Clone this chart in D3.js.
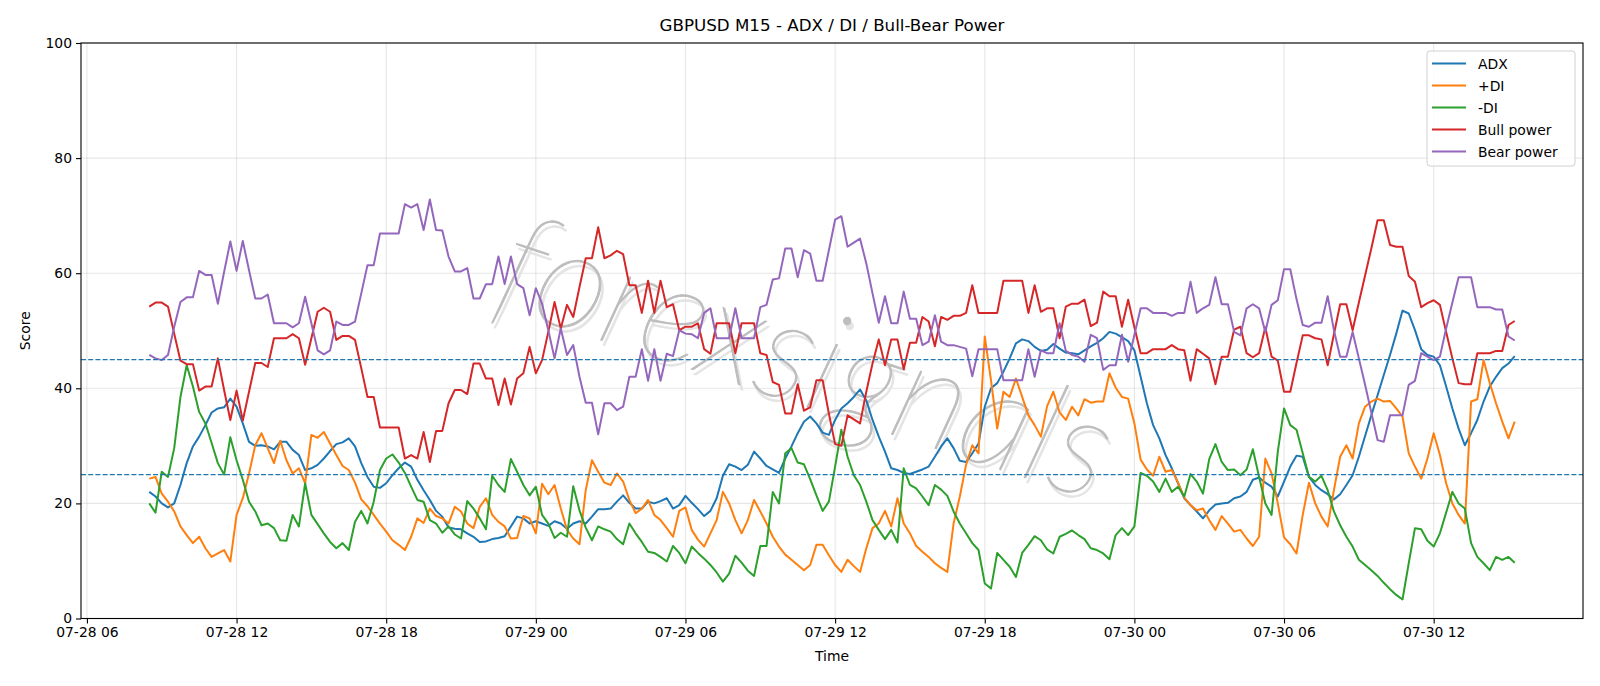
<!DOCTYPE html>
<html>
<head>
<meta charset="utf-8">
<script src="https://cdn.jsdelivr.net/npm/d3@7"></script>
<style>
  body { margin: 0; background: #fff; }
  text { font-family: "DejaVu Sans", sans-serif; }
</style>
</head>
<body>
<script>
//15 minute bars, first bar 07-28 08:30
var startTime = new Date(2025, 6, 28, 8, 30);
var stepMinutes = 15;

var adx = [22.0,21.2,20.0,19.3,20.0,23.2,27.0,29.9,31.6,33.6,35.8,36.5,36.7,38.2,36.8,33.9,30.7,30.0,30.1,29.9,
  29.4,30.7,30.7,29.3,28.4,25.8,26.1,26.7,27.8,29.1,30.3,30.6,31.3,29.9,27.0,24.6,22.9,22.7,
  23.5,24.9,26.1,27.1,26.4,24.1,22.3,20.6,18.7,17.7,15.8,15.6,15.5,14.8,14.2,13.3,13.4,13.8,14.0,14.3,16.0,17.7,
  17.4,16.5,16.9,16.5,16.1,16.9,16.5,15.6,16.5,16.9,16.5,17.7,19.0,19.0,
  19.1,20.3,21.4,20.1,19.1,19.1,20.3,20.0,20.4,20.9,19.1,19.7,21.3,20.1,19.0,17.8,18.7,20.9,24.8,26.8,
  26.4,25.8,26.7,29.0,27.8,26.5,25.9,25.3,27.8,29.9,32.2,34.2,35.1,33.9,32.3,31.9,34.5,
  36.5,37.4,38.5,39.8,37.9,34.5,31.6,29.0,26.1,25.8,25.3,25.1,25.5,25.9,26.4,28.1,29.9,31.3,29.6,27.4,
  27.2,28.7,30.4,36.8,40.0,40.9,42.9,45.2,47.8,48.5,48.2,47.2,46.5,46.7,47.7,46.9,46.2,
  46.1,45.9,46.6,47.3,47.9,48.7,49.8,49.5,48.9,48.2,46.6,42.0,37.4,33.6,31.3,28.4,26.1,23.5,20.9,19.7,
  18.6,17.4,18.8,19.8,20.0,20.1,20.9,21.2,22.0,24.1,24.5,23.6,22.9,21.2,23.8,26.4,28.3,
  28.1,24.6,23.2,22.3,21.6,20.7,21.6,23.2,24.9,28.1,31.7,35.3,38.8,42.3,45.8,49.5,53.5,53.0,50.1,46.8,
  45.8,45.5,44.0,40.3,36.5,33.0,30.1,32.2,34.5,37.7,40.3,42.0,43.5,44.3,45.6];

var plusDI = [24.3,24.6,21.7,20.3,18.6,16.0,14.5,13.1,14.2,12.2,10.7,11.3,11.9,9.9,18.0,20.9,25.2,30.1,32.2,29.6,
  27.0,30.9,27.5,25.2,26.1,23.5,31.9,31.4,32.4,30.4,28.4,26.5,25.8,23.6,20.7,19.5,18.0,16.5,
  15.1,13.6,12.8,11.9,14.2,17.4,16.6,19.1,17.8,17.4,16.5,19.4,18.6,16.5,15.7,19.4,20.9,18.0,16.8,16.0,13.9,14.0,
  17.8,17.4,14.8,23.4,21.6,23.2,19.1,15.4,13.9,12.9,22.3,27.5,25.5,23.6,
  23.2,25.2,23.8,20.6,18.3,19.1,20.6,18.0,17.1,15.7,14.2,18.7,19.3,15.4,13.7,12.5,14.8,17.1,22.0,20.0,
  17.1,14.8,17.1,20.6,18.6,16.5,14.2,12.5,11.1,10.2,9.3,8.4,9.3,12.8,12.8,11.0,9.3,
  8.1,10.2,9.1,8.1,12.2,15.7,16.5,18.7,16.0,20.9,16.5,14.8,12.6,11.6,10.7,9.6,8.8,8.1,16.5,21.2,
  26.7,30.1,28.7,49.0,41.4,33.0,39.4,38.5,41.7,38.5,35.3,33.6,31.6,36.9,39.4,35.8,34.5,
  36.8,35.3,38.1,37.5,37.7,37.7,42.6,40.1,38.5,38.2,33.9,27.6,25.9,24.8,28.1,25.5,25.8,23.6,21.0,19.7,
  18.8,19.1,17.1,15.4,17.8,16.5,15.1,15.4,13.9,12.6,14.2,27.8,25.2,20.0,14.1,12.9,11.3,
  18.0,23.6,20.0,17.7,16.0,22.3,28.1,30.1,27.8,33.9,36.8,37.7,38.2,37.7,37.8,36.5,35.1,28.7,26.4,24.3,
  27.8,32.2,28.4,23.5,20.0,18.0,16.5,37.7,38.1,44.9,40.9,37.4,34.2,31.3,34.2];

var minusDI = [20.0,18.4,25.5,24.6,29.6,38.5,44.0,40.3,35.9,33.9,30.5,27.0,25.0,31.5,27.5,24.1,20.3,18.6,16.2,16.5,
  15.7,13.6,13.5,18.0,16.0,23.5,18.0,16.4,14.8,13.3,12.2,13.1,11.9,16.8,18.7,16.5,20.3,25.8,
  27.8,28.5,27.1,25.3,22.9,20.6,20.3,17.1,16.5,14.9,16.0,14.6,13.9,20.4,19.1,17.4,15.5,24.8,23.2,22.0,27.7,25.5,
  23.2,21.4,22.9,18.0,16.5,14.0,14.9,14.2,23.0,18.8,15.8,13.6,16.0,15.5,
  15.1,13.8,12.9,16.5,14.8,13.3,11.6,11.4,10.7,9.9,12.6,11.4,9.6,12.5,11.4,10.4,9.3,8.0,6.4,7.8,
  10.9,9.7,8.3,7.4,12.6,12.6,22.0,20.0,28.7,29.6,27.1,26.8,24.2,21.4,18.7,20.3,26.4,
  32.8,28.1,24.9,23.2,20.3,17.1,15.4,13.8,15.4,13.2,26.1,23.2,22.6,21.2,19.7,23.2,22.4,21.3,18.6,16.5,
  14.8,13.1,11.9,6.1,5.2,11.4,10.2,9.0,7.2,11.4,12.8,14.3,13.6,12.0,11.3,14.2,14.7,
  15.3,14.5,13.8,12.2,11.9,11.3,10.3,14.5,15.7,14.5,16.0,25.3,24.8,23.8,22.0,24.3,22.0,22.9,21.2,25.1,
  23.8,21.7,27.7,30.3,27.2,25.8,25.9,24.9,25.9,29.4,24.6,20.0,18.0,29.0,36.5,33.6,32.8,
  28.7,24.6,23.8,24.8,22.3,18.6,16.2,14.2,12.5,10.2,9.3,8.4,7.4,6.2,5.1,4.1,3.3,9.6,15.7,15.5,
  13.5,12.5,14.8,18.4,22.0,20.0,19.1,13.1,10.7,9.6,8.4,10.7,10.2,10.7,9.7];

var bullPower = [54.2,54.9,54.9,54.2,49.5,44.8,44.2,44.2,39.6,40.3,40.3,45.2,39.7,34.5,39.6,34.4,39.4,44.4,44.4,43.7,
  48.7,48.7,48.7,49.4,48.7,44.1,48.7,53.3,54.0,53.3,48.4,49.1,49.1,48.4,43.5,38.5,38.5,33.2,
  33.2,33.2,33.2,27.8,28.4,27.8,32.4,27.2,32.6,32.6,37.4,39.7,39.7,39.0,44.3,44.3,41.7,41.7,37.1,41.7,37.2,41.7,
  42.6,47.2,42.6,44.9,49.8,55.0,50.4,54.5,52.4,57.6,62.6,62.6,68.0,62.6,
  63.1,63.9,63.3,57.9,57.9,53.1,58.7,53.1,58.7,54.1,54.6,50.1,50.7,50.7,51.3,46.8,46.0,51.3,51.3,51.3,
  46.1,51.3,51.3,51.3,46.1,45.8,41.1,40.6,35.6,35.6,40.7,36.1,36.7,41.4,41.4,35.6,30.3,
  30.0,35.3,34.6,33.9,39.4,44.3,48.5,44.0,48.5,48.5,43.3,47.9,47.9,52.4,51.6,47.3,52.4,51.9,52.6,52.6,
  53.1,57.9,53.1,53.1,53.1,53.1,58.7,58.7,58.7,58.7,53.1,57.9,53.3,53.9,53.9,48.7,54.2,
  54.7,54.7,55.4,50.8,51.4,56.8,56.0,56.0,50.7,55.4,50.6,46.1,46.1,46.8,46.8,46.8,47.5,46.8,46.6,41.3,
  46.8,46.0,45.2,40.7,45.5,45.5,50.2,50.7,46.1,45.4,46.1,50.6,45.5,44.8,39.4,39.4,44.4,
  49.2,49.2,48.7,48.5,44.0,49.4,54.6,54.6,50.1,54.9,59.6,64.3,69.2,69.2,64.9,64.6,64.6,59.5,58.5,54.1,
  54.8,55.3,54.5,49.8,45.2,40.9,40.7,40.7,46.1,46.1,46.1,46.5,46.5,51.0,51.7];

var bearPower = [45.8,45.2,44.9,45.8,50.7,55.0,55.8,55.8,60.4,59.7,59.7,54.7,60.2,65.5,60.4,65.6,60.5,55.6,55.6,56.3,
  51.3,51.3,51.3,50.6,51.3,55.9,51.3,46.6,45.9,46.6,51.6,51.0,51.0,51.6,56.5,61.4,61.4,66.9,
  66.9,66.9,66.9,72.0,71.4,72.0,67.5,72.8,67.5,67.4,62.9,60.3,60.3,60.9,55.6,55.6,58.1,58.1,62.9,58.1,62.9,58.1,
  57.4,52.7,57.4,54.7,50.1,45.2,50.4,45.8,47.5,42.0,37.5,37.5,32.0,37.4,
  37.4,36.2,36.8,42.0,42.0,46.8,41.3,46.8,41.3,46.0,45.6,50.1,49.5,49.4,48.7,53.1,53.9,48.7,48.7,48.7,
  53.9,48.7,48.7,48.7,54.1,54.5,58.9,59.1,64.3,64.3,59.3,64.0,63.4,58.7,58.7,64.0,69.3,
  69.9,64.6,65.3,66.0,61.7,56.5,51.4,56.0,51.3,51.3,56.8,52.1,52.1,47.5,48.1,52.7,48.1,47.5,47.5,47.2,
  46.9,42.1,46.8,46.8,46.8,46.8,41.4,41.4,41.4,41.4,46.8,42.0,46.6,46.1,46.1,51.3,46.5,
  45.8,45.5,44.6,49.3,48.7,43.2,44.0,44.0,49.3,44.6,49.3,53.9,53.9,53.1,53.1,53.1,52.6,53.1,53.1,58.5,
  53.1,53.9,54.5,59.3,54.6,54.6,49.8,49.2,53.9,54.6,53.9,49.8,54.5,55.3,60.7,60.7,55.5,
  51.0,50.7,51.4,51.4,56.0,50.1,45.5,45.5,49.8,45.2,40.6,35.8,31.0,30.7,35.3,35.3,35.3,40.6,41.3,46.1,
  45.5,44.9,45.5,50.4,54.9,59.3,59.3,59.3,54.1,54.1,54.1,53.7,53.7,49.0,48.3];

var seriesNames = ["ADX", "+DI", "-DI", "Bull power", "Bear power"];
var seriesColors = ["#1f77b4", "#ff7f0e", "#2ca02c", "#d62728", "#9467bd"];
var refLevels = [25, 45];
var yTicks = [0, 20, 40, 60, 80, 100];
var xTickLabels = ["07-28 06", "07-28 12", "07-28 18", "07-29 00", "07-29 06",
  "07-29 12", "07-29 18", "07-30 00", "07-30 06", "07-30 12"];

var width = 1600, height = 686;
//plot frame (avoid the global names top/left etc.)
var plotL = 81, plotR = 1583, plotT = 43, plotB = 618.5;

var times = adx.map(function(d, i){ return d3.timeMinute.offset(startTime, stepMinutes * i); });
var allSeries = [adx, plusDI, minusDI, bullPower, bearPower];

var parseTick = d3.timeParse("%Y-%m-%d %H");
var tickDates = xTickLabels.map(function(s){ return parseTick("2025-" + s); });

//matplotlib style 5% margin on the time axis
var t0 = +times[0], t1 = +times[times.length - 1], pad = (t1 - t0) * 0.05;

var x = d3.scaleTime()
    .domain([new Date(t0 - pad), new Date(t1 + pad)])
    .range([plotL, plotR]);

var y = d3.scaleLinear()
    .domain([0, 100])
    .range([plotB, plotT]);

var svg = d3.select("body").append("svg")
    .attr("width", width)
    .attr("height", height);

//grid
svg.append("g").selectAll("line")
    .data(tickDates).enter().append("line")
    .attr("x1", function(d){ return x(d); }).attr("x2", function(d){ return x(d); })
    .attr("y1", plotT).attr("y2", plotB)
    .attr("stroke", "#b0b0b0").attr("stroke-opacity", 0.3).attr("stroke-width", 1.1);

svg.append("g").selectAll("line")
    .data(yTicks).enter().append("line")
    .attr("x1", plotL).attr("x2", plotR)
    .attr("y1", function(d){ return y(d); }).attr("y2", function(d){ return y(d); })
    .attr("stroke", "#b0b0b0").attr("stroke-opacity", 0.3).attr("stroke-width", 1.1);

//watermark: thin italic text with a light shadow
var wm = svg.append("g")
    .attr("transform", "translate(792,402) rotate(18)");
wm.append("text")
    .attr("x", 4).attr("y", 4)
    .attr("text-anchor", "middle")
    .style("font-family", "Lato, 'DejaVu Sans', sans-serif")
    .style("font-weight", 100)
    .style("font-style", "italic")
    .style("font-size", "140px")
    .attr("fill", "#e4e4e4")
    .attr("stroke", "#e4e4e4")
    .attr("stroke-width", 1)
    .text("forexsignals");
wm.append("text")
    .attr("text-anchor", "middle")
    .style("font-family", "Lato, 'DejaVu Sans', sans-serif")
    .style("font-weight", 100)
    .style("font-style", "italic")
    .style("font-size", "140px")
    .attr("fill", "#bdbdbd")
    .attr("stroke", "#bdbdbd")
    .attr("stroke-width", 1)
    .text("forexsignals");

//series lines
var line = d3.line()
    .x(function(d, i){ return x(times[i]); })
    .y(function(d){ return y(d); });

svg.append("g").selectAll("path")
    .data(allSeries).enter().append("path")
    .attr("d", line)
    .attr("fill", "none")
    .attr("stroke", function(d, i){ return seriesColors[i]; })
    .attr("stroke-width", 2)
    .attr("stroke-linejoin", "round");

//reference levels
svg.append("g").selectAll("line")
    .data(refLevels).enter().append("line")
    .attr("x1", plotL).attr("x2", plotR)
    .attr("y1", function(d){ return y(d); }).attr("y2", function(d){ return y(d); })
    .attr("stroke", "#1f77b4").attr("stroke-width", 1.3)
    .attr("stroke-dasharray", "5,2.2");

//axes
var xAxis = svg.append("g")
    .attr("transform", "translate(0," + plotB + ")")
    .call(d3.axisBottom(x).tickValues(tickDates)
        .tickFormat(function(d, i){ return xTickLabels[i]; })
        .tickSize(5).tickPadding(4).tickSizeOuter(0));

var yAxis = svg.append("g")
    .attr("transform", "translate(" + plotL + ",0)")
    .call(d3.axisLeft(y).tickValues(yTicks).tickSize(5).tickPadding(4).tickSizeOuter(0));

[xAxis, yAxis].forEach(function(a){
    a.select(".domain").remove();
    a.selectAll(".tick line").attr("stroke", "#000").attr("stroke-width", 1.1);
    a.selectAll(".tick text")
        .style("font-family", "'DejaVu Sans', sans-serif")
        .style("font-size", "13.9px")
        .attr("fill", "#000");
});

//frame
svg.append("rect")
    .attr("x", plotL).attr("y", plotT)
    .attr("width", plotR - plotL).attr("height", plotB - plotT)
    .attr("fill", "none").attr("stroke", "#000").attr("stroke-width", 1.1);

//labels
svg.append("text")
    .attr("x", (plotL + plotR) / 2).attr("y", 31)
    .attr("text-anchor", "middle")
    .style("font-size", "16.7px")
    .text("GBPUSD M15 - ADX / DI / Bull-Bear Power");

svg.append("text")
    .attr("x", (plotL + plotR) / 2).attr("y", 661)
    .attr("text-anchor", "middle")
    .style("font-size", "13.9px")
    .text("Time");

svg.append("text")
    .attr("transform", "translate(30," + ((plotT + plotB) / 2) + ") rotate(-90)")
    .attr("text-anchor", "middle")
    .style("font-size", "13.9px")
    .text("Score");

//legend
var legend = svg.append("g");
legend.append("rect")
    .attr("x", 1427).attr("y", 51)
    .attr("width", 148).attr("height", 115)
    .attr("rx", 3)
    .attr("fill", "#fff").attr("fill-opacity", 0.8)
    .attr("stroke", "#d0d0d0");

var rows = legend.selectAll("g")
    .data(seriesNames).enter().append("g")
    .attr("transform", function(d, i){ return "translate(0," + (63.5 + i * 22) + ")"; });

rows.append("line")
    .attr("x1", 1432).attr("x2", 1466)
    .attr("stroke", function(d, i){ return seriesColors[i]; })
    .attr("stroke-width", 2);

rows.append("text")
    .attr("x", 1478).attr("y", 5)
    .style("font-size", "13.9px")
    .text(function(d){ return d; });
</script>
</body>
</html>
